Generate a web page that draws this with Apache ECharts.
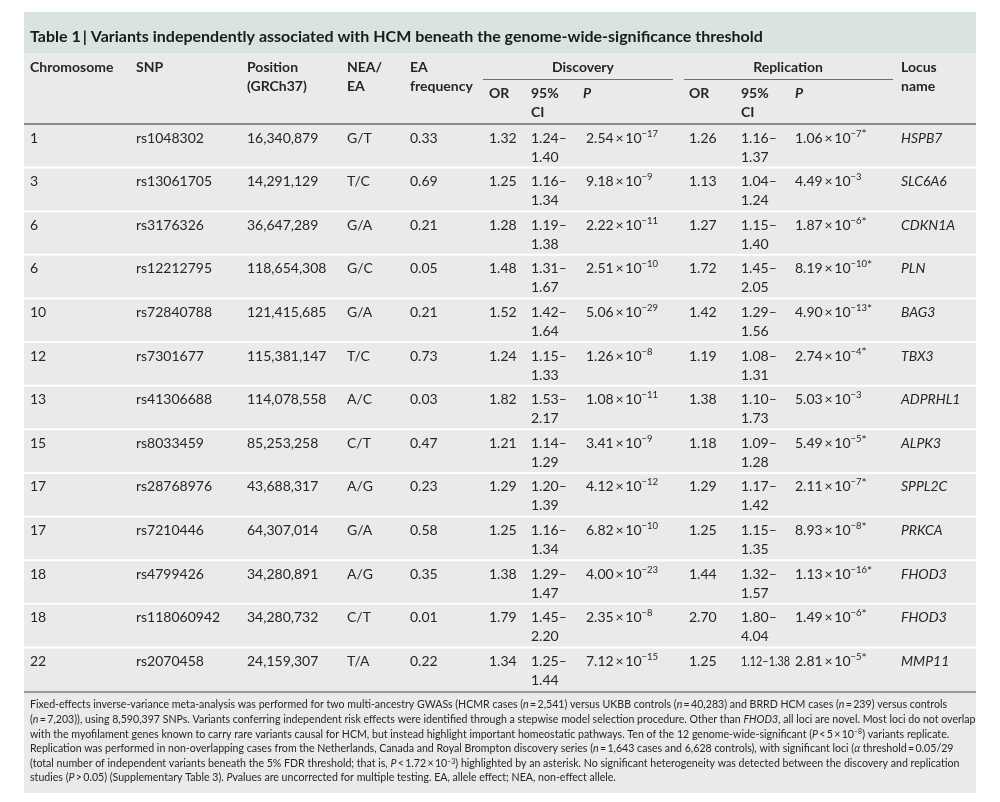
<!DOCTYPE html>
<html>
<head>
<meta charset="utf-8">
<script src="https://cdn.jsdelivr.net/npm/echarts@6/dist/echarts.min.js"></script>
<style>html,body{margin:0;padding:0;background:#fff}#c{width:1000px;height:802px}</style>
</head>
<body>
<div id="c"></div>
<script>
// ---------------- data ----------------
const chromosome = ['1','3','6','6','10','12','13','15','17','17','18','18','22'];
const snp = ['rs1048302','rs13061705','rs3176326','rs12212795','rs72840788','rs7301677','rs41306688','rs8033459','rs28768976','rs7210446','rs4799426','rs118060942','rs2070458'];
const position = ['16,340,879','14,291,129','36,647,289','118,654,308','121,415,685','115,381,147','114,078,558','85,253,258','43,688,317','64,307,014','34,280,891','34,280,732','24,159,307'];
const neaEa = ['G/T','T/C','G/A','G/C','G/A','T/C','A/C','C/T','A/G','G/A','A/G','C/T','T/A'];
const eaFreq = ['0.33','0.69','0.21','0.05','0.21','0.73','0.03','0.47','0.23','0.58','0.35','0.01','0.22'];
const discOR = ['1.32','1.25','1.28','1.48','1.52','1.24','1.82','1.21','1.29','1.25','1.38','1.79','1.34'];
const discCI = ['1.24–\n1.40','1.16–\n1.34','1.19–\n1.38','1.31–\n1.67','1.42–\n1.64','1.15–\n1.33','1.53–\n2.17','1.14–\n1.29','1.20–\n1.39','1.16–\n1.34','1.29–\n1.47','1.45–\n2.20','1.25–\n1.44'];
const discPMant = ['2.54','9.18','2.22','2.51','5.06','1.26','1.08','3.41','4.12','6.82','4.00','2.35','7.12'];
const discPExp = ['−17','−9','−11','−10','−29','−8','−11','−9','−12','−10','−23','−8','−15'];
const repOR = ['1.26','1.13','1.27','1.72','1.42','1.19','1.38','1.18','1.29','1.25','1.44','2.70','1.25'];
const repCI = ['1.16–\n1.37','1.04–\n1.24','1.15–\n1.40','1.45–\n2.05','1.29–\n1.56','1.08–\n1.31','1.10–\n1.73','1.09–\n1.28','1.17–\n1.42','1.15–\n1.35','1.32–\n1.57','1.80–\n4.04','1.12–1.38'];
const repPMant = ['1.06','4.49','1.87','8.19','4.90','2.74','5.03','5.49','2.11','8.93','1.13','1.49','2.81'];
const repPExp = ['−7','−3','−6','−10','−13','−4','−3','−5','−7','−8','−16','−6','−5'];
const repSignificant = [true,false,true,true,true,true,false,true,true,true,true,true,true];
const locus = ['HSPB7','SLC6A6','CDKN1A','PLN','BAG3','TBX3','ADPRHL1','ALPK3','SPPL2C','PRKCA','FHOD3','FHOD3','MMP11'];

const titleText = 'Table 1\u2009| Variants independently associated with HCM beneath the genome-wide-significance threshold';
const colHeaders = ['Chromosome','SNP','Position\n(GRCh37)','NEA/\nEA','EA\nfrequency'];
const groupHeaders = ['Discovery','Replication'];
const subHeaders = ['OR','95%\nCI','P'];
const locusHeader = 'Locus\nname';
const footnoteLines = [
  'Fixed-effects inverse-variance meta-analysis was performed for two multi-ancestry GWASs (HCMR cases ({i|n}\u2009=\u20092,541) versus UKBB controls ({i|n}\u2009=\u200940,283) and BRRD HCM cases ({i|n}\u2009=\u2009239) versus controls',
  '({i|n}\u2009=\u20097,203)), using 8,590,397 SNPs. Variants conferring independent risk effects were identified through a stepwise model selection procedure. Other than {i|FHOD3}, all loci are novel. Most loci do not overlap',
  'with the myofilament genes known to carry rare variants causal for HCM, but instead highlight important homeostatic pathways. Ten of the 12 genome-wide-significant ({i|P}\u2009<\u20095\u2009×\u200910{s|−8}) variants replicate.',
  'Replication was performed in non-overlapping cases from the Netherlands, Canada and Royal Brompton discovery series ({i|n}\u2009=\u20091,643 cases and 6,628 controls), with significant loci ({i|α} threshold\u2009=\u20090.05/29',
  '(total number of independent variants beneath the 5% FDR threshold; that is, {i|P}\u2009<\u20091.72\u2009×\u200910{s|−3}) highlighted by an asterisk. No significant heterogeneity was detected between the discovery and replication',
  'studies ({i|P}\u2009>\u20090.05) (Supplementary Table 3). {i|P}values are uncorrected for multiple testing. EA, allele effect; NEA, non-effect allele.'
];

// ---------------- layout / style ----------------
const FONT = 'Lato, "Open Sans", sans-serif';
const TEXT = '#262626';
const BODY_BG = '#e8ebe8';
const TITLE_BG = '#d8e4dd';
const PANEL = { left: 24, right: 976, top: 12, bottom: 793 };
const TABLE = { top: 124, bottom: 691 };
const COLX = { chrom: 30, snp: 136, pos: 247, nea: 347, freq: 410, dOR: 489, dCI: 531, dP: 586, rOR: 689, rCI: 741, rP: 795, locus: 901 };
const HDR_P = { d: 583, r: 795 };
const BODY_FS = 14, LINE_H = 19;

const measureCtx = document.createElement('canvas').getContext('2d');
function maxLineWidth(text, fontSize) {
  measureCtx.font = fontSize + 'px ' + FONT;
  return Math.max.apply(null, text.split('\n').map(t => measureCtx.measureText(t).width));
}
function fitScale(text, avail) {
  const w = maxLineWidth(text, BODY_FS);
  return w > avail ? avail / w : 1;
}

const pRich = {
  m: { fontFamily: FONT, fontSize: BODY_FS, lineHeight: LINE_H, fill: TEXT },
  s: { fontFamily: FONT, fontSize: 9.5, lineHeight: 14, verticalAlign: 'top', fill: TEXT },
  a: { fontFamily: FONT, fontSize: 12, lineHeight: 15, verticalAlign: 'top', fill: TEXT }
};

function renderRow(params, api) {
  const i = params.dataIndex;
  const c = api.coord([PANEL.left, i]);
  const h = api.size([0, 1])[1];
  const top = c[1] - h / 2;
  const X = k => api.coord([COLX[k], i])[0];
  const ty = top + 4.5;
  const children = [];
  if (i > 0) {
    children.push({ type: 'rect', shape: { x: c[0], y: top - 1, width: PANEL.right - PANEL.left, height: 2 }, style: { fill: '#ffffff' } });
  }
  const cell = (k, text, extra, sx) => children.push({
    type: 'text', x: X(k), y: ty, scaleX: sx || 1,
    style: Object.assign({ x: 0, y: 0, text: text, fill: TEXT, fontFamily: FONT, fontSize: BODY_FS, lineHeight: LINE_H, verticalAlign: 'top', align: 'left' }, extra || {})
  });
  cell('chrom', chromosome[i]);
  cell('snp', snp[i]);
  cell('pos', position[i]);
  cell('nea', neaEa[i]);
  cell('freq', eaFreq[i]);
  cell('dOR', discOR[i]);
  cell('dCI', discCI[i], null, fitScale(discCI[i], COLX.dP - COLX.dCI - 5));
  cell('dP', '{m|' + discPMant[i] + '\u2009×\u200910}{s|' + discPExp[i] + '}', { rich: pRich });
  cell('rOR', repOR[i]);
  cell('rCI', repCI[i], null, fitScale(repCI[i], COLX.rP - COLX.rCI - 5));
  cell('rP', '{m|' + repPMant[i] + '\u2009×\u200910}{s|' + repPExp[i] + '}' + (repSignificant[i] ? '{a|*}' : ''), { rich: pRich });
  cell('locus', locus[i], { fontStyle: 'italic' });
  return { type: 'group', children: children };
}

// header graphics
const HB = { fontFamily: FONT, fontSize: BODY_FS, fontWeight: 'bold', fill: TEXT, lineHeight: LINE_H, verticalAlign: 'top' };
const graphics = [
  { type: 'rect', z: -10, shape: { x: PANEL.left, y: PANEL.top, width: PANEL.right - PANEL.left, height: PANEL.bottom - PANEL.top }, style: { fill: BODY_BG } },
  { type: 'rect', z: -9, shape: { x: PANEL.left, y: PANEL.top, width: PANEL.right - PANEL.left, height: 41 }, style: { fill: TITLE_BG } },
  { type: 'text', x: 30, y: 37, style: { text: titleText, fontFamily: FONT, fontSize: 16, fontWeight: 'bold', fill: '#1a1a1a', verticalAlign: 'middle' } },
  { type: 'rect', shape: { x: PANEL.left, y: TABLE.top - 1, width: PANEL.right - PANEL.left, height: 2 }, style: { fill: '#8a8a8a' } },
  { type: 'rect', shape: { x: PANEL.left, y: TABLE.bottom, width: PANEL.right - PANEL.left, height: 2 }, style: { fill: '#9a9a9a' } }
];
const hdrKeys = ['chrom', 'snp', 'pos', 'nea', 'freq'];
colHeaders.forEach((t, k) => graphics.push({ type: 'text', x: COLX[hdrKeys[k]], y: 57.5, style: Object.assign({ text: t }, HB) }));
graphics.push({ type: 'text', x: COLX.locus, y: 57.5, style: Object.assign({ text: locusHeader }, HB) });
const groups = [
  { label: groupHeaders[0], x1: 483, x2: 673, cx: 583, keys: ['dOR', 'dCI'], px: HDR_P.d },
  { label: groupHeaders[1], x1: 684, x2: 893, cx: 788, keys: ['rOR', 'rCI'], px: HDR_P.r }
];
groups.forEach(g => {
  graphics.push({ type: 'text', x: g.cx, y: 57.5, style: Object.assign({ text: g.label, align: 'center' }, HB) });
  graphics.push({ type: 'line', shape: { x1: g.x1, y1: 79.5, x2: g.x2, y2: 79.5 }, style: { stroke: '#6e6e6e', lineWidth: 1 } });
  graphics.push({ type: 'text', x: COLX[g.keys[0]], y: 83.5, style: Object.assign({ text: subHeaders[0] }, HB) });
  graphics.push({ type: 'text', x: COLX[g.keys[1]], y: 83.5, style: Object.assign({ text: subHeaders[1] }, HB) });
  graphics.push({ type: 'text', x: g.px, y: 83.5, style: Object.assign({ text: subHeaders[2], fontStyle: 'italic' }, HB) });
});
const FN = { fontFamily: FONT, fontSize: 10.6, fill: TEXT };
footnoteLines.forEach((t, k) => graphics.push({
  type: 'text', x: 30, y: 705 + 14.6 * k,
  style: Object.assign({
    text: t, verticalAlign: 'middle',
    rich: {
      i: Object.assign({ fontStyle: 'italic' }, FN),
      s: Object.assign({}, FN, { fontSize: 7, lineHeight: 8, verticalAlign: 'top' })
    }
  }, FN)
}));

const chart = echarts.init(document.getElementById('c'), null, { renderer: 'canvas' });
chart.setOption({
  backgroundColor: '#ffffff',
  animation: false,
  grid: { left: PANEL.left, right: 1000 - PANEL.right, top: TABLE.top, bottom: 802 - TABLE.bottom },
  xAxis: { type: 'value', min: PANEL.left, max: PANEL.right, show: false },
  yAxis: { type: 'category', data: snp, inverse: true, show: false },
  graphic: graphics,
  series: [{
    type: 'custom',
    renderItem: renderRow,
    encode: { x: 0, y: 1 },
    data: snp.map((s, i) => [PANEL.left, i]),
    z: 5
  }]
});
</script>
</body>
</html>
